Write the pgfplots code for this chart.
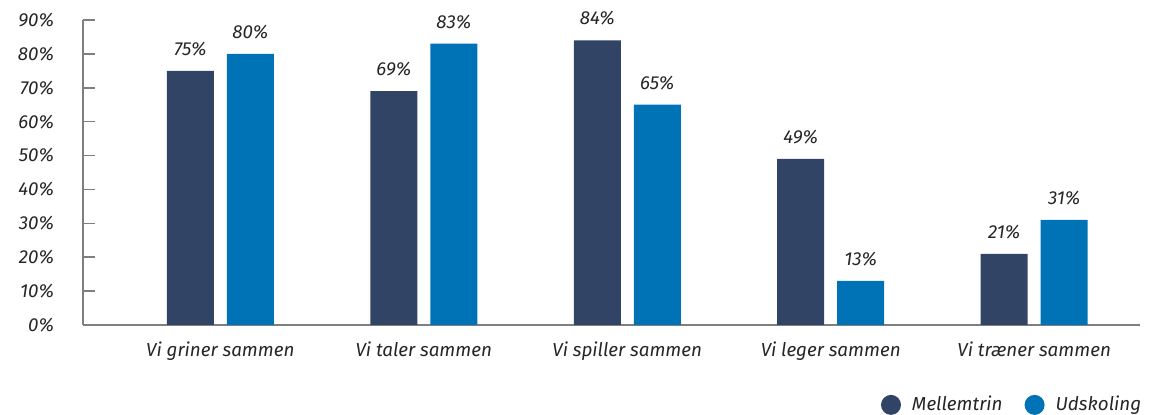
\documentclass[border=0pt]{standalone}
\usepackage{pgfplots}
\pgfplotsset{compat=1.18}
\usepackage{fontspec}
\setmainfont{Fira Sans}
\definecolor{navy}{HTML}{324466}
\definecolor{blu}{HTML}{0073B7}
\definecolor{axgray}{HTML}{7F7F7F}
\begin{document}
\begin{tikzpicture}
\useasboundingbox (0pt,0pt) rectangle (576pt,207.5pt);
\begin{axis}[
  at={(41.5pt,45pt)}, anchor=south west,
  scale only axis,
  width=528.5pt, height=152.5pt,
  ybar=6.5pt, bar width=23.5pt,
  xmin=-0.675, xmax=4.52,
  ymin=0, ymax=90,
  ytick={0,10,...,90},
  xtick={0,1,2,3,4},
  xticklabels={Vi griner sammen, Vi taler sammen, Vi spiller sammen, Vi leger sammen, Vi træner sammen},
  axis x line*=bottom, axis y line*=left,
  axis line style={axgray, line width=0.8pt},
  x axis line style={-}, y axis line style={-},
  ytick style={axgray, line width=0.8pt},
  major tick length=6pt,
  tick align=inside,
  xtick style={draw=none},
  /pgf/number format/assume math mode=true,
  yticklabel={\pgfmathprintnumber{\tick}\%},
  yticklabel style={font=\fontsize{9.4}{10}\selectfont\itshape, text=black!85, xshift=-11pt},
  xticklabel style={font=\fontsize{9.4}{10}\selectfont\itshape, text=black!85, yshift=-5pt},
  nodes near coords={\pgfmathprintnumber{\pgfplotspointmeta}\%},
  nodes near coords style={font=\fontsize{9.4}{10}\selectfont\itshape, text=black!85, yshift=4pt},
  legend style={draw=none, fill=none, at={(1.011,-0.262)}, anchor=east, font=\fontsize{9.4}{10}\selectfont\itshape, text=black!85, column sep=3.5pt},
  legend columns=2,
  /tikz/every even column/.append style={column sep=9pt},
  legend image code/.code={\fill[#1] (0pt,0pt) circle (5pt);},
]
\addplot[fill=navy, draw=none] coordinates {(0,75) (1,69) (2,84) (3,49) (4,21)};
\addplot[fill=blu, draw=none] coordinates {(0,80) (1,83) (2,65) (3,13) (4,31)};
\legend{Mellemtrin, Udskoling}
\end{axis}
\end{tikzpicture}
\end{document}
